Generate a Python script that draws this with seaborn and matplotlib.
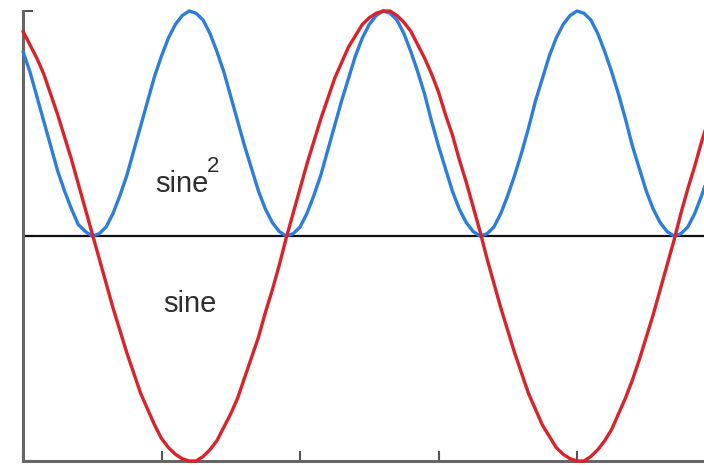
import matplotlib
matplotlib.use("Agg")
import matplotlib.pyplot as plt
import seaborn as sns
import pandas as pd

# sample positions (tick units) and values
x_vals = [0.00, 0.05, 0.10, 0.15, 0.20, 0.25, 0.30, 0.35, 0.40, 0.45,
          0.50, 0.55, 0.60, 0.65, 0.70, 0.75, 0.80, 0.85, 0.90, 0.95,
          1.00, 1.05, 1.10, 1.15, 1.20, 1.25, 1.30, 1.35, 1.40, 1.45,
          1.50, 1.55, 1.60, 1.65, 1.70, 1.75, 1.80, 1.85, 1.90, 1.95,
          2.00, 2.05, 2.10, 2.15, 2.20, 2.25, 2.30, 2.35, 2.40, 2.45,
          2.50, 2.55, 2.60, 2.65, 2.70, 2.75, 2.80, 2.85, 2.90, 2.95,
          3.00, 3.05, 3.10, 3.15, 3.20, 3.25, 3.30, 3.35, 3.40, 3.45,
          3.50, 3.55, 3.60, 3.65, 3.70, 3.75, 3.80, 3.85, 3.90, 3.95,
          4.00, 4.05, 4.10, 4.15, 4.20, 4.25, 4.30, 4.35, 4.40, 4.45,
          4.50, 4.55, 4.60, 4.65, 4.70, 4.75, 4.80, 4.85, 4.90, 4.95]

sine_vals = [0.91, 0.85, 0.79, 0.72, 0.63, 0.54, 0.44, 0.34, 0.23, 0.12,
             0.01, -0.10, -0.21, -0.32, -0.42, -0.52, -0.61, -0.70, -0.77, -0.84,
             -0.90, -0.94, -0.97, -0.99, -1.00, -1.00, -0.98, -0.95, -0.91, -0.85,
             -0.79, -0.72, -0.63, -0.54, -0.45, -0.34, -0.24, -0.13, -0.01, 0.10,
             0.21, 0.32, 0.42, 0.52, 0.61, 0.70, 0.77, 0.84, 0.89, 0.94,
             0.97, 0.99, 1.00, 1.00, 0.98, 0.95, 0.91, 0.85, 0.79, 0.72,
             0.64, 0.54, 0.45, 0.34, 0.24, 0.13, 0.02, -0.10, -0.21, -0.32,
             -0.42, -0.52, -0.61, -0.70, -0.77, -0.84, -0.89, -0.94, -0.97, -0.99,
             -1.00, -1.00, -0.98, -0.95, -0.91, -0.86, -0.79, -0.72, -0.64, -0.55,
             -0.45, -0.35, -0.24, -0.13, -0.02, 0.10, 0.21, 0.31, 0.42, 0.52]

sine2_vals = [0.82, 0.73, 0.62, 0.51, 0.40, 0.29, 0.20, 0.12, 0.05, 0.02,
              0.00, 0.01, 0.04, 0.10, 0.18, 0.27, 0.38, 0.49, 0.60, 0.71,
              0.80, 0.88, 0.94, 0.98, 1.00, 0.99, 0.96, 0.90, 0.82, 0.73,
              0.62, 0.51, 0.40, 0.30, 0.20, 0.12, 0.06, 0.02, 0.00, 0.01,
              0.04, 0.10, 0.18, 0.27, 0.38, 0.49, 0.60, 0.70, 0.80, 0.88,
              0.94, 0.98, 1.00, 0.99, 0.96, 0.90, 0.82, 0.73, 0.63, 0.51,
              0.40, 0.30, 0.20, 0.12, 0.06, 0.02, 0.00, 0.01, 0.04, 0.10,
              0.18, 0.27, 0.37, 0.48, 0.60, 0.70, 0.80, 0.88, 0.94, 0.98,
              1.00, 0.99, 0.96, 0.90, 0.82, 0.73, 0.63, 0.52, 0.40, 0.30,
              0.20, 0.12, 0.06, 0.02, 0.00, 0.01, 0.04, 0.10, 0.18, 0.27]

x_ticks = [0, 1, 2, 3, 4]
y_ticks = [-1, 0, 1]

df = pd.DataFrame({"x": x_vals, "sine": sine_vals, "sine2": sine2_vals})

sns.set_style("white")
plt.rcParams['font.family'] = ['Liberation Sans', 'DejaVu Sans']

fig = plt.figure(figsize=(7.04, 4.65), dpi=100)
ax = fig.add_axes([23 / 704, 4 / 465, 1 - 23 / 704, 450 / 465])

ax.axhline(0, color="#111111", lw=1.6, zorder=1)
sns.lineplot(data=df, x="x", y="sine2", ax=ax, color="#2b7de0", lw=2.4,
             clip_on=False, zorder=3)
sns.lineplot(data=df, x="x", y="sine", ax=ax, color="#dc2228", lw=2.4,
             clip_on=False, zorder=4)

ax.set_xlim(0, 681 / 138.5)
ax.set_ylim(-1, 1)
ax.set_xticks(x_ticks)
ax.set_yticks(y_ticks)
ax.set_xlabel("")
ax.set_ylabel("")
ax.tick_params(bottom=True, left=True, direction="in", length=7, width=1.5,
               color="#555555", labelbottom=False, labelleft=False)
for side in ["top", "right"]:
    ax.spines[side].set_visible(False)
for side in ["left", "bottom"]:
    ax.spines[side].set_color("#666666")
    ax.spines[side].set_linewidth(2.2)

ax.text(0.953, 0.196, "sine", fontsize=21, color="#2e2e2e", va="baseline")
ax.text(1.33, 0.285, "2", fontsize=16, color="#2e2e2e", va="baseline")
ax.text(1.011, -0.338, "sine", fontsize=21, color="#2e2e2e", va="baseline")

plt.savefig("out.png", dpi=100)
